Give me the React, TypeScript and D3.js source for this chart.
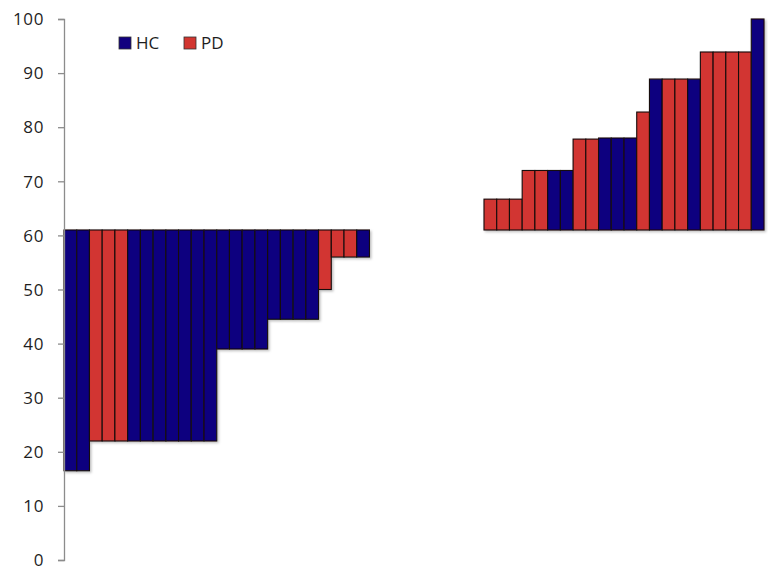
import React, { useEffect, useRef } from 'react'
import * as d3 from 'd3'

// Bars below the baseline (left block) and above it (right block)
const baseline = 61
const leftValues = [
  16.5, 16.5, 22, 22, 22, 22, 22, 22, 22, 22, 22, 22, 39, 39, 39, 39, 44.5, 44.5, 44.5, 44.5, 50, 56, 56,
  56,
]
const leftGroups = [
  'HC', 'HC', 'PD', 'PD', 'PD', 'HC', 'HC', 'HC', 'HC', 'HC', 'HC', 'HC', 'HC', 'HC', 'HC', 'HC', 'HC', 'HC',
  'HC', 'HC', 'PD', 'PD', 'PD', 'HC',
]
const gapSlots = 9
const rightValues = [
  66.7, 66.7, 66.7, 72, 72, 72, 72, 77.8, 77.8, 78, 78, 78, 82.8, 88.9, 88.9, 88.9, 88.9, 93.9, 93.9, 93.9,
  93.9, 100,
]
const rightGroups = [
  'PD', 'PD', 'PD', 'PD', 'PD', 'HC', 'HC', 'PD', 'PD', 'HC', 'HC', 'HC', 'PD', 'HC', 'PD', 'PD', 'HC', 'PD',
  'PD', 'PD', 'PD', 'HC',
]
const yTicks = [0, 10, 20, 30, 40, 50, 60, 70, 80, 90, 100]
const legendKeys = ['HC', 'PD']

const colors: Record<string, string> = { HC: '#11007f', PD: '#d23630' }

interface Bar {
  slot: number
  value: number
  group: string
}

export default function App() {
  const svgRef = useRef<SVGSVGElement>(null)

  useEffect(() => {
    if (!svgRef.current) return
    const svg = d3.select(svgRef.current)
    svg.selectAll('*').remove()

    const width = 768
    const height = 569
    const left = 64
    const right = 764
    const top = 19
    const bottom = 560

    const bars: Bar[] = [
      ...leftValues.map((v, i) => ({ slot: i, value: v, group: leftGroups[i] })),
      ...rightValues.map((v, i) => ({
        slot: leftValues.length + gapSlots + i,
        value: v,
        group: rightGroups[i],
      })),
    ]
    const nSlots = leftValues.length + gapSlots + rightValues.length

    const x = d3
      .scaleBand<number>()
      .domain(d3.range(nSlots))
      .range([left, right])
      .padding(0)
    const y = d3.scaleLinear().domain([0, 100]).range([bottom, top])

    svg.attr('width', width).attr('height', height)

    const defs = svg.append('defs')
    const f = defs
      .append('filter')
      .attr('id', 'shadow')
      .attr('x', '-20%')
      .attr('y', '-20%')
      .attr('width', '140%')
      .attr('height', '140%')
    f.append('feDropShadow')
      .attr('dx', 1.5)
      .attr('dy', 1.5)
      .attr('stdDeviation', 1)
      .attr('flood-color', '#000')
      .attr('flood-opacity', 0.25)

    const g = svg.append('g').attr('filter', 'url(#shadow)')
    g.selectAll('rect')
      .data(bars)
      .enter()
      .append('rect')
      .attr('x', (d) => x(d.slot) || 0)
      .attr('width', x.bandwidth())
      .attr('y', (d) => y(Math.max(d.value, baseline)))
      .attr('height', (d) => Math.abs(y(d.value) - y(baseline)))
      .attr('fill', (d) => colors[d.group])
      .attr('stroke', '#140c0c')
      .attr('stroke-width', 1.1)

    // Y axis
    const axis = svg
      .append('g')
      .attr('transform', `translate(${left},0)`)
      .call(d3.axisLeft(y).tickValues(yTicks).tickSize(6).tickPadding(14))
    axis.select('.domain').attr('stroke', '#8c8c8c').attr('stroke-width', 1.3)
    axis.selectAll('.tick line').attr('stroke', '#8c8c8c').attr('stroke-width', 1.3)
    axis
      .selectAll('.tick text')
      .attr('fill', '#1e1e1e')
      .attr('font-size', '17px')
      .attr('letter-spacing', '0.6px')
      .attr('dy', '0.34em')
      .attr('font-family', 'Open Sans, sans-serif')

    // Legend
    const legend = svg.append('g').attr('transform', 'translate(119,37)')
    legendKeys.forEach((k, i) => {
      const lg = legend.append('g').attr('transform', `translate(${i * 65},0)`)
      lg.append('rect')
        .attr('width', 12)
        .attr('height', 12)
        .attr('fill', colors[k])
        .attr('stroke', '#333')
        .attr('stroke-width', 0.8)
      lg.append('text')
        .attr('x', 17)
        .attr('y', 12)
        .attr('font-size', '17px')
        .attr('font-family', 'Open Sans, sans-serif')
        .attr('fill', '#1e1e1e')
        .text(k)
    })
  }, [])

  return (
    <div style={{ position: 'absolute', left: 0, top: 0 }}>
      <svg ref={svgRef} style={{ display: 'block', background: '#fff' }} />
    </div>
  )
}
